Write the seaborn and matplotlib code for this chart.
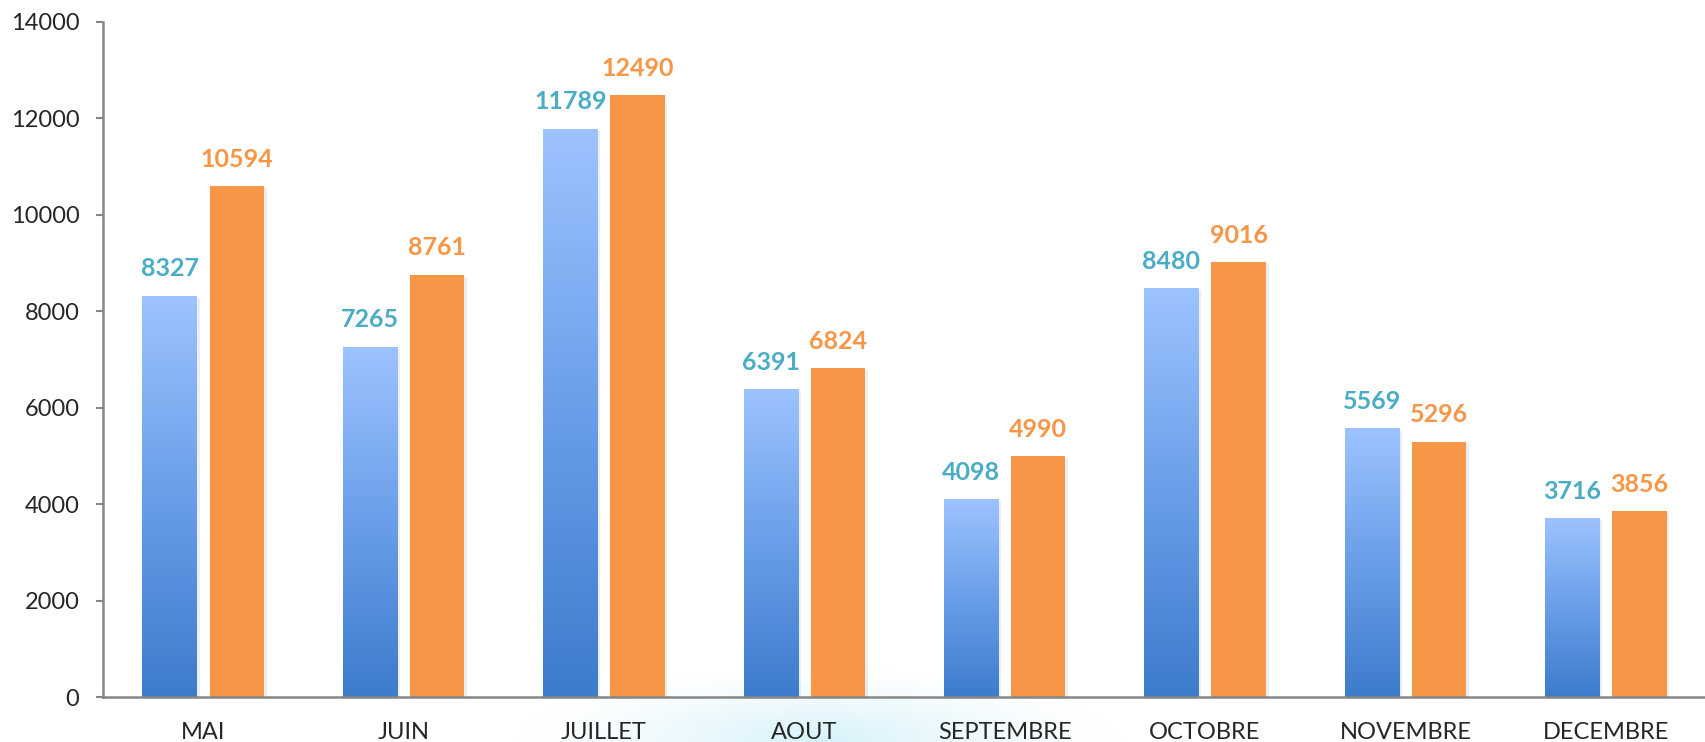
import numpy as np
import pandas as pd
import matplotlib
matplotlib.use("Agg")
import matplotlib.pyplot as plt
import matplotlib.patheffects as pe
from matplotlib.colors import LinearSegmentedColormap
import seaborn as sns

# data
months = ["MAI", "JUIN", "JUILLET", "AOUT", "SEPTEMBRE", "OCTOBRE", "NOVEMBRE", "DECEMBRE"]
serie_1 = [8327, 7265, 11789, 6391, 4098, 8480, 5569, 3716]
serie_2 = [10594, 8761, 12490, 6824, 4990, 9016, 5296, 3856]
series = ["S1", "S2"]
yticks = [0, 2000, 4000, 6000, 8000, 10000, 12000, 14000]

df = pd.DataFrame({
    "mois": months * 2,
    "valeur": serie_1 + serie_2,
    "serie": [series[0]] * len(months) + [series[1]] * len(months),
})

sns.set_style("white")
plt.rcParams["font.family"] = ["Lato", "DejaVu Sans"]

fig = plt.figure(figsize=(17.06, 7.42), dpi=100)

# faint cyan glow behind the bottom centre
bg = fig.add_axes([0, 0, 1, 1], zorder=-5)
gx, gy = np.meshgrid(np.linspace(0, 1, 400), np.linspace(0, 1, 200))
r = np.sqrt(((gx - 0.48) / 0.18) ** 2 + ((gy - 0.0) / 0.10) ** 2)
glow = np.zeros((200, 400, 4))
glow[..., 0] = 0.80
glow[..., 1] = 0.94
glow[..., 2] = 0.98
glow[..., 3] = np.clip(1 - r, 0, 1) ** 1.3 * 0.8
bg.imshow(glow, extent=[0, 1, 0, 1], origin="lower", aspect="auto")
bg.axis("off")

ax = fig.add_axes([103 / 1706, 45 / 742, 1 - 103 / 1706, (697 - 22) / 742])
ax.patch.set_visible(False)

sns.barplot(data=df, x="mois", y="valeur", hue="serie", order=months,
            palette=["#6a9ee8", "#F79646"], width=0.67, gap=0.19,
            saturation=1, legend=False, ax=ax)

ax.set_xlabel("")
ax.set_ylabel("")

grad = LinearSegmentedColormap.from_list("bleu", ["#3C7CCC", "#6A9EE8", "#9DC3FF"])
shadow = [pe.SimplePatchShadow(offset=(2, -1.5), shadow_rgbFace="#909090", alpha=0.15), pe.Normal()]

blue_bars = ax.containers[0]
orange_bars = ax.containers[1]
for bar in list(blue_bars) + list(orange_bars):
    bar.set_path_effects(shadow)
    bar.set_edgecolor("none")

for bar in blue_bars:
    x0, w, h = bar.get_x(), bar.get_width(), bar.get_height()
    im = ax.imshow(np.linspace(0, 1, 256).reshape(-1, 1), cmap=grad, origin="lower",
                   extent=[x0, x0 + w, 0, h], aspect="auto", zorder=bar.get_zorder() + 0.1)
    im.set_clip_path(bar)

ax.set_xlim(-0.5, len(months) - 0.5)
ax.set_ylim(0, 14000)
ax.set_yticks(yticks)

ax.bar_label(blue_bars, labels=[str(v) for v in serie_1], padding=11,
             color="#4BACC6", fontsize=18, fontweight="bold")
ax.bar_label(orange_bars, labels=[str(v) for v in serie_2], padding=11,
             color="#F79646", fontsize=18, fontweight="bold")

sns.despine(ax=ax)
for side in ["left", "bottom"]:
    ax.spines[side].set_color("#868686")
    ax.spines[side].set_linewidth(1.8)

ax.tick_params(axis="y", length=5, width=1.5, color="#868686", pad=12, labelsize=17, left=True)
ax.tick_params(axis="x", length=0, pad=18, labelsize=17)

fig.savefig("out.png", dpi=100)
